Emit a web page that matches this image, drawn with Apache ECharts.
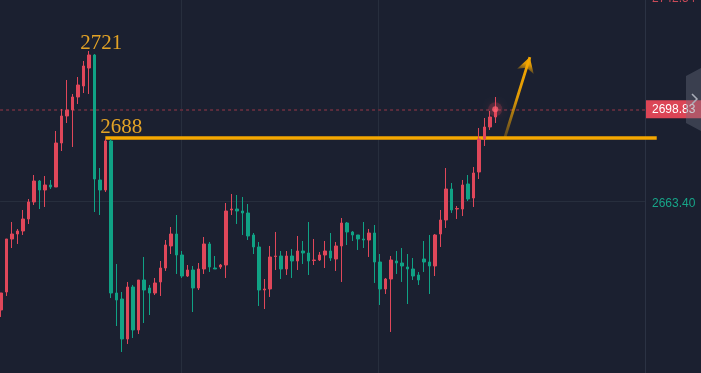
<!DOCTYPE html>
<html><head><meta charset="utf-8">
<script src="https://cdn.jsdelivr.net/npm/echarts@6/dist/echarts.min.js"></script>
<style>html,body{margin:0;padding:0;background:#1b2030;overflow:hidden}#c{width:701px;height:373px}</style>
</head><body><div id="c"></div>
<script>
// ---- data ----
const opens = [2621.28,2628.23,2648.71,2650.64,2651.80,2656.44,2663.01,2671.12,2667.64,2669.58,
2668.80,2685.80,2696.24,2698.56,2703.58,2707.83,2714.78,2719.81,2671.51,2667.64,
2686.58,2627.84,2625.53,2610.07,2630.16,2613.55,2632.87,2629.78,2627.84,2632.10,
2637.50,2646.01,2650.64,2642.53,2634.41,2636.73,2629.78,2637.12,2646.78,2637.50,
2637.89,2638.66,2659.92,2660.30,2659.53,2658.76,2650.26,2645.62,2629.00,2629.39,
2641.95,2642.14,2637.12,2642.14,2640.21,2644.07,2643.30,2640.40,2640.60,2642.53,
2644.07,2640.98,2646.01,2654.89,2651.42,2650.26,2648.71,2648.32,2651.03,2639.82,
2629.39,2633.25,2640.21,2639.44,2637.89,2637.12,2634.80,2640.98,2639.82,2638.28,
2650.64,2656.05,2668.03,2660.30,2660.30,2669.96,2664.55,2674.60,2687.35,2691.99,2695.85];
const closes = [2627.84,2648.71,2650.64,2651.80,2656.44,2663.01,2671.12,2667.64,2669.58,2668.80,
2685.80,2696.24,2698.56,2703.58,2708.22,2715.56,2719.81,2671.89,2667.64,2686.58,
2627.84,2625.14,2610.07,2630.16,2613.55,2632.87,2629.00,2627.84,2631.71,2637.50,
2646.39,2650.64,2642.53,2634.41,2636.73,2629.78,2637.12,2646.78,2637.89,2637.12,
2638.66,2659.53,2660.30,2659.53,2658.76,2649.87,2645.62,2629.00,2629.39,2641.76,
2642.14,2637.12,2642.14,2640.21,2644.07,2643.30,2640.21,2640.60,2642.53,2644.07,
2641.37,2646.01,2654.89,2651.42,2650.26,2648.71,2648.32,2651.03,2639.82,2629.39,
2633.25,2640.60,2639.44,2638.28,2637.12,2634.41,2632.87,2639.82,2638.28,2650.26,
2656.05,2668.03,2659.92,2660.50,2669.58,2664.17,2674.21,2687.35,2691.99,2695.85,2698.83];
const lows = [2618.57,2626.69,2645.23,2646.78,2650.26,2654.51,2661.85,2660.30,2661.08,2668.03,
2668.80,2682.71,2693.53,2684.26,2700.87,2705.12,2704.74,2659.14,2657.98,2666.87,
2625.91,2615.09,2605.05,2608.14,2610.46,2612.00,2616.25,2619.34,2627.07,2626.69,
2636.35,2642.91,2635.19,2633.64,2634.03,2620.50,2629.00,2635.19,2635.96,2637.12,
2637.12,2633.64,2657.98,2654.51,2650.26,2648.32,2642.91,2622.82,2621.66,2626.30,
2636.73,2633.25,2634.80,2633.64,2636.73,2639.05,2634.80,2638.66,2640.21,2637.50,
2640.21,2636.35,2632.10,2646.39,2647.94,2644.46,2645.23,2641.76,2631.71,2623.21,
2627.46,2612.78,2635.19,2632.10,2623.59,2632.87,2630.94,2635.96,2627.46,2634.41,
2645.62,2652.96,2658.76,2656.44,2657.60,2663.39,2661.08,2671.89,2684.65,2690.83,2693.53];
const highs = [2627.84,2648.71,2655.28,2652.57,2659.92,2664.17,2673.44,2671.51,2673.05,2671.51,
2690.44,2698.94,2710.15,2704.74,2711.31,2717.49,2721.35,2720.19,2676.14,2687.35,
2687.35,2639.05,2628.23,2632.10,2630.94,2632.87,2641.76,2630.94,2633.64,2640.21,
2648.32,2653.35,2657.98,2644.07,2638.66,2638.28,2639.44,2649.48,2647.55,2642.14,
2639.05,2662.62,2666.10,2665.71,2664.94,2662.23,2651.03,2647.55,2633.25,2646.01,
2651.42,2644.07,2644.07,2644.85,2649.87,2647.94,2655.28,2648.71,2643.69,2647.94,
2651.03,2647.55,2656.82,2655.28,2651.80,2650.26,2655.28,2652.57,2654.12,2642.91,
2633.64,2642.14,2644.07,2645.23,2642.91,2641.37,2635.96,2647.94,2650.26,2650.64,
2659.92,2676.14,2670.35,2661.46,2671.51,2673.44,2676.53,2691.60,2695.46,2698.17,2703.58];

const levelTexts = ['2721', '2688'];
const levelValues = [2721, 2688];
const levelAnchors = [17, 19];
const lastPrice = 2698.83;
const axisLabelValues = [2742.54, 2663.40];
const axisLabelColors = ['#c84a58', '#17a488'];
const hGridValue = 2663.40;
const vGridPositions = [32.83, 68.70];
const arrowFrom = [91.77, 2688.1];
const arrowTo = [96.3, 2719.0];

// ---- axes extents ----
const xMin = -0.18, xMax = 119.45, xAxisEdge = 117.26, lineEnd = 119.4;
const yMin = 2596.93, yMax = 2741.06;

const candleData = opens.map((o, i) => [i, o, closes[i], lows[i], highs[i]]);
const lastIdx = candleData.length - 1;
const colorOf = v => axisLabelColors[axisLabelValues.indexOf(Number(v))] || '#888';

const UP = '#e0475a', DOWN = '#10a285', GOLD = '#f5a700', GRID = '#272e3d';
const LABEL_FONT = 'Liberation Sans, Arial, sans-serif';

const chart = echarts.init(document.getElementById('c'), null, {renderer: 'canvas'});
chart.setOption({
  backgroundColor: '#1b2030',
  animation: false,
  grid: {left: 0, right: 44, top: 0, bottom: 0, containLabel: false},
  xAxis: {type: 'value', min: xMin, max: xMax, show: false, splitLine: {show: false}},
  yAxis: {
    type: 'value', position: 'right', offset: -12, min: yMin, max: yMax,
    axisLine: {show: false, onZero: false},
    axisTick: {show: false},
    splitLine: {show: false},
    axisLabel: {show: false}
  },
  series: [
    {
      type: 'candlestick',
      data: candleData,
      encode: {x: 0, y: [1, 2, 3, 4]},
      barWidth: 3,
      clip: false,
      itemStyle: {color: UP, color0: DOWN, borderColor: UP, borderColor0: DOWN, borderWidth: 1},
      markLine: {
        silent: true,
        symbol: 'none',
        animation: false,
        z: 1,
        data: [
          ...vGridPositions.map(v => ({xAxis: v, lineStyle: {color: GRID, width: 1, type: 'solid'}, label: {show: false}})),
          {xAxis: xAxisEdge, lineStyle: {color: '#2b3243', width: 1, type: 'solid'}, label: {show: false}},
          [{coord: [xMin + 0.01, hGridValue], lineStyle: {color: GRID, width: 1, type: 'solid'}, label: {show: false}},
           {coord: [xAxisEdge, hGridValue]}],
          [{coord: [xMin + 0.01, lastPrice], lineStyle: {color: '#5a2c3c', width: 2, type: [3, 3]},
            label: {show: true, position: 'end', distance: 1, formatter: lastPrice.toFixed(2),
                    backgroundColor: '#dc4556', color: '#ffffff', fontSize: 12,
                    fontFamily: LABEL_FONT, padding: [3, 8, 3, 6]}},
           {coord: [xAxisEdge, lastPrice]}],
          [{coord: [levelAnchors[1], levelValues[1]], lineStyle: {color: GOLD, width: 3.5, type: 'solid'}, label: {show: false}},
           {coord: [lineEnd, levelValues[1]]}],
          [{coord: arrowFrom, symbol: 'none',
            lineStyle: {width: 2.8, type: 'solid', color: {type: 'linear', x: 0, y: 1, x2: 0, y2: 0,
              colorStops: [{offset: 0, color: 'rgba(245,167,0,0.25)'}, {offset: 0.5, color: 'rgba(245,167,0,0.9)'}, {offset: 1, color: GOLD}]}},
            label: {show: false}},
           {coord: arrowTo, symbol: 'arrow', symbolSize: [13, 15], itemStyle: {color: GOLD}}]
        ]
      },
      markPoint: {
        silent: true,
        animation: false,
        data: levelTexts.map((t, k) => ({
          coord: [levelAnchors[k], levelValues[k]],
          symbol: 'circle', symbolSize: 1,
          itemStyle: {color: 'rgba(0,0,0,0)'},
          label: {show: true, position: 'inside', formatter: t, color: '#e3a326',
                  fontSize: 21, fontFamily: 'Liberation Serif, Times New Roman, serif',
                  offset: k === 0 ? [7, -8] : [16, -10]}
        }))
      }
    },
    {
      type: 'scatter', z: 5, silent: true,
      data: [[lastIdx, lastPrice]],
      symbolSize: 14,
      itemStyle: {color: 'rgba(230,70,90,0.25)'}
    },
    {
      type: 'scatter', z: 6, silent: true,
      data: [[lastIdx, lastPrice]],
      symbolSize: 6,
      itemStyle: {color: '#ff5f70', shadowBlur: 8, shadowColor: 'rgba(255,80,95,0.9)'}
    }
  ]
});

// price-scale labels, placed through the axis scale
const labelX = chart.convertToPixel({xAxisIndex: 0}, xAxisEdge) + 7;
const scaleTexts = axisLabelValues.map(v => ({
  type: 'text', silent: true, z: 50,
  x: labelX, y: chart.convertToPixel({yAxisIndex: 0}, v) + 3,
  style: {text: v.toFixed(2), fill: colorOf(v), fontSize: 12, fontFamily: LABEL_FONT, verticalAlign: 'middle', align: 'left'}
}));
chart.setOption({
  graphic: scaleTexts.concat([
    {type: 'polygon', z: 100, silent: true,
     shape: {points: [[686, 76], [701, 68], [701, 131], [686, 123]]},
     style: {fill: 'rgba(110,116,132,0.38)'}},
    {type: 'polyline', z: 101, silent: true,
     shape: {points: [[692, 94], [697, 99], [692, 104]]},
     style: {stroke: '#a9aeb9', lineWidth: 1.5, fill: null}}
  ])
});
</script></body></html>
